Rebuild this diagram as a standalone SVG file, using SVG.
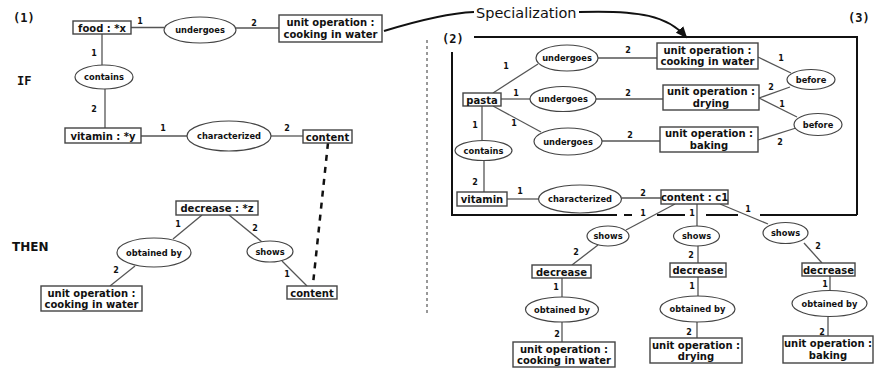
<svg xmlns="http://www.w3.org/2000/svg" width="876" height="370" viewBox="0 0 876 370">
<defs>
<style>
.bx{fill:#fff;stroke:#444;stroke-width:1.4}
.el{fill:#fff;stroke:#444;stroke-width:1.2}
.ln{stroke:#555;stroke-width:1.3;fill:none}
.fr{stroke:#111;stroke-width:2;fill:none}
.t{font-family:"DejaVu Sans",Verdana,sans-serif;font-weight:bold;font-size:10px;fill:#111;text-anchor:middle}
.e{font-family:"DejaVu Sans",Verdana,sans-serif;font-weight:bold;font-size:8.3px;fill:#111;text-anchor:middle}
.n{font-family:"DejaVu Sans",Verdana,sans-serif;font-weight:bold;font-size:8px;fill:#111;text-anchor:middle}
.m{font-family:"DejaVu Sans Mono",monospace;font-weight:bold;font-size:12px;fill:#111}
.h{font-family:"DejaVu Sans",Verdana,sans-serif;font-weight:bold;font-size:12px;fill:#111}
</style>
<marker id="ah" markerWidth="12" markerHeight="10" refX="10" refY="5" orient="auto" markerUnits="userSpaceOnUse">
<path d="M0,0 L12,5 L0,10 Z" fill="#111"/>
</marker>
</defs>
<rect width="876" height="370" fill="#fff"/>

<text class="m" x="13" y="22">(1)</text>
<text class="m" x="17" y="85">IF</text>
<text class="h" x="12" y="251">THEN</text>
<text class="m" x="442" y="43">(2)</text>
<text class="m" x="848" y="22">(3)</text>
<text x="476" y="18" style="font-family:'DejaVu Sans',Verdana,sans-serif;font-size:14.5px;fill:#111">Specialization</text>

<g id="connectors">
<path class="fr" d="M384 31 C420 20 450 13 474 12"/>
<path class="fr" d="M579 12 C640 10 668 16 686 37" marker-end="url(#ah)"/>
<line x1="427" y1="40" x2="427" y2="316" stroke="#333" stroke-width="1" stroke-dasharray="3 3"/>
<line x1="328" y1="143" x2="313" y2="284" stroke="#111" stroke-width="2.5" stroke-dasharray="6 6"/>
<g class="ln">
<line x1="131" y1="27.5" x2="164" y2="27.5"/>
<line x1="236" y1="28" x2="279" y2="28"/>
<line x1="102" y1="34" x2="102" y2="65"/>
<line x1="105" y1="89" x2="105" y2="128"/>
<line x1="141" y1="136" x2="187" y2="136"/>
<line x1="271" y1="136" x2="303" y2="136"/>
<line x1="202" y1="215" x2="173" y2="239"/>
<line x1="135" y1="266" x2="110" y2="286"/>
<line x1="229" y1="215" x2="262" y2="242"/>
<line x1="282" y1="261" x2="307" y2="286"/>
<line x1="493" y1="93" x2="538" y2="64"/>
<line x1="598" y1="58" x2="657" y2="58"/>
<line x1="501" y1="99" x2="530" y2="99"/>
<line x1="596" y1="99" x2="663" y2="99"/>
<line x1="493" y1="106" x2="541" y2="132"/>
<line x1="602" y1="141" x2="660" y2="141"/>
<line x1="482" y1="106" x2="482" y2="140.5"/>
<line x1="484" y1="160.5" x2="484" y2="192"/>
<line x1="507" y1="199" x2="538.5" y2="199"/>
<line x1="621.5" y1="198" x2="661" y2="198"/>
<line x1="758" y1="57" x2="791" y2="73"/>
<line x1="790" y1="87" x2="759" y2="98"/>
<line x1="759" y1="98" x2="797" y2="117"/>
<line x1="796" y1="128" x2="758" y2="140"/>
<line x1="675" y1="204" x2="626" y2="230"/>
<line x1="697" y1="204" x2="697" y2="226"/>
<line x1="720" y1="204" x2="768" y2="224"/>
<line x1="598" y1="245" x2="572" y2="265"/>
<line x1="562" y1="278" x2="562" y2="297"/>
<line x1="562" y1="322" x2="562" y2="342"/>
<line x1="698" y1="246" x2="698" y2="263"/>
<line x1="698" y1="277" x2="698" y2="296"/>
<line x1="697" y1="322" x2="697" y2="338"/>
<line x1="804" y1="243" x2="822" y2="263"/>
<line x1="830" y1="276" x2="830" y2="290.5"/>
<line x1="828" y1="317" x2="828" y2="336"/>
</g>
<g class="fr">
<path d="M474 37 H857 V215 M452 52 V215 H617 M624 215 H632 M657 215 H685 M706 215 H738 M760 215 H857"/>
</g>
<g>
<text class="n" x="140" y="24">1</text>
<text class="n" x="254" y="26">2</text>
<text class="n" x="94" y="56">1</text>
<text class="n" x="94" y="112">2</text>
<text class="n" x="163" y="131">1</text>
<text class="n" x="287" y="131">2</text>
<text class="n" x="178" y="227">1</text>
<text class="n" x="116" y="273">2</text>
<text class="n" x="255" y="231">2</text>
<text class="n" x="287" y="277">1</text>
<text class="n" x="506" y="69">1</text>
<text class="n" x="628" y="53">2</text>
<text class="n" x="516" y="96">1</text>
<text class="n" x="628" y="96">2</text>
<text class="n" x="514" y="126">1</text>
<text class="n" x="630" y="138">2</text>
<text class="n" x="475" y="128">1</text>
<text class="n" x="475" y="185">2</text>
<text class="n" x="520" y="194">1</text>
<text class="n" x="643" y="196">2</text>
<text class="n" x="781" y="61">1</text>
<text class="n" x="771" y="90">2</text>
<text class="n" x="782" y="107">1</text>
<text class="n" x="780" y="145">2</text>
<text class="n" x="643" y="216">1</text>
<text class="n" x="692" y="216">1</text>
<text class="n" x="748" y="212">1</text>
<text class="n" x="576" y="255">2</text>
<text class="n" x="556" y="290">1</text>
<text class="n" x="557" y="337">2</text>
<text class="n" x="691" y="258">2</text>
<text class="n" x="692" y="289">1</text>
<text class="n" x="689" y="335">2</text>
<text class="n" x="818" y="249">2</text>
<text class="n" x="825" y="287">1</text>
<text class="n" x="822" y="335">2</text>
</g>
</g>

<g id="food"><rect class="bx" x="73" y="21" width="58" height="13"/><text class="t" x="102" y="31.5">food : *x</text></g>
<g id="undergoes-l"><ellipse class="el" cx="200" cy="30" rx="36" ry="13"/><text class="e" x="200" y="33">undergoes</text></g>
<g id="uo-l1"><rect class="bx" x="279" y="15" width="103" height="27"/><text class="t" x="330.5" y="26">unit operation :</text><text class="t" x="330.5" y="38">cooking in water</text></g>
<g id="contains-l"><ellipse class="el" cx="104" cy="77" rx="29" ry="12"/><text class="e" x="104" y="80">contains</text></g>
<g id="vitamin-l"><rect class="bx" x="65" y="128" width="76" height="15"/><text class="t" x="103" y="139.5">vitamin : *y</text></g>
<g id="characterized-l"><ellipse class="el" cx="229" cy="136" rx="42" ry="15"/><text class="e" x="229" y="139">characterized</text></g>
<g id="content-l1"><rect class="bx" x="303" y="130" width="49" height="13"/><text class="t" x="327.5" y="140.5">content</text></g>
<g id="decrease-l"><rect class="bx" x="176" y="201" width="82" height="14"/><text class="t" x="217" y="212">decrease : *z</text></g>
<g id="obtained-l"><ellipse class="el" cx="154" cy="252.5" rx="37" ry="14.5"/><text class="e" x="154" y="255.5">obtained by</text></g>
<g id="shows-l"><ellipse class="el" cx="270" cy="251.5" rx="23" ry="10.5"/><text class="e" x="270" y="254.5">shows</text></g>
<g id="uo-l2"><rect class="bx" x="41" y="286" width="101" height="25"/><text class="t" x="91.5" y="296.5">unit operation :</text><text class="t" x="91.5" y="308">cooking in water</text></g>
<g id="content-l2"><rect class="bx" x="287" y="286" width="50" height="13"/><text class="t" x="312" y="296.5">content</text></g>

<g id="pasta"><rect class="bx" x="463" y="93" width="38" height="13"/><text class="t" x="482" y="103.5">pasta</text></g>
<g id="undergoes-r1"><ellipse class="el" cx="567" cy="58" rx="31" ry="13"/><text class="e" x="567" y="61">undergoes</text></g>
<g id="undergoes-r2"><ellipse class="el" cx="563" cy="99" rx="33" ry="12.5"/><text class="e" x="563" y="102">undergoes</text></g>
<g id="undergoes-r3"><ellipse class="el" cx="568" cy="141.5" rx="34" ry="13.5"/><text class="e" x="568" y="144.5">undergoes</text></g>
<g id="contains-r"><ellipse class="el" cx="483.5" cy="150.5" rx="28.5" ry="10"/><text class="e" x="483.5" y="153.5">contains</text></g>
<g id="vitamin-r"><rect class="bx" x="457" y="192" width="50" height="14"/><text class="t" x="482" y="203">vitamin</text></g>
<g id="characterized-r"><ellipse class="el" cx="580" cy="199" rx="41.5" ry="14"/><text class="e" x="580" y="202">characterized</text></g>
<g id="content-c1"><rect class="bx" x="661" y="190" width="67" height="14"/><text class="t" x="694.5" y="201">content : c1</text></g>
<g id="uo-cook"><rect class="bx" x="657" y="43" width="101" height="26"/><text class="t" x="707.5" y="53.5">unit operation :</text><text class="t" x="707.5" y="65">cooking in water</text></g>
<g id="uo-dry"><rect class="bx" x="663" y="85" width="96" height="25"/><text class="t" x="711" y="95">unit operation :</text><text class="t" x="711" y="107">drying</text></g>
<g id="uo-bake"><rect class="bx" x="660" y="127" width="98" height="25"/><text class="t" x="709" y="137">unit operation :</text><text class="t" x="709" y="149">baking</text></g>
<g id="before1"><ellipse class="el" cx="811" cy="79.5" rx="24" ry="10"/><text class="e" x="811" y="82.5">before</text></g>
<g id="before2"><ellipse class="el" cx="818" cy="124.5" rx="24" ry="11"/><text class="e" x="818" y="127.5">before</text></g>

<g id="shows1"><ellipse class="el" cx="608" cy="236" rx="21" ry="10"/><text class="e" x="608" y="239">shows</text></g>
<g id="shows2"><ellipse class="el" cx="696.5" cy="236" rx="23" ry="10"/><text class="e" x="696.5" y="239">shows</text></g>
<g id="shows3"><ellipse class="el" cx="785.5" cy="233" rx="22.5" ry="10.5"/><text class="e" x="785.5" y="236">shows</text></g>
<g id="decrease1"><rect class="bx" x="532" y="265" width="59" height="13"/><text class="t" x="561.5" y="275.5">decrease</text></g>
<g id="decrease2"><rect class="bx" x="670" y="263" width="56" height="14"/><text class="t" x="698" y="274">decrease</text></g>
<g id="decrease3"><rect class="bx" x="802" y="263" width="53" height="13"/><text class="t" x="828.5" y="273.5">decrease</text></g>
<g id="obtained1"><ellipse class="el" cx="562" cy="309.5" rx="36.5" ry="12.5"/><text class="e" x="562" y="312.5">obtained by</text></g>
<g id="obtained2"><ellipse class="el" cx="697.5" cy="309" rx="37.5" ry="13"/><text class="e" x="697.5" y="312">obtained by</text></g>
<g id="obtained3"><ellipse class="el" cx="829.5" cy="303.5" rx="37.5" ry="13"/><text class="e" x="829.5" y="306.5">obtained by</text></g>
<g id="uo-r1"><rect class="bx" x="513" y="342" width="102" height="25"/><text class="t" x="564" y="352.5">unit operation :</text><text class="t" x="564" y="364">cooking in water</text></g>
<g id="uo-r2"><rect class="bx" x="650" y="338" width="92" height="25"/><text class="t" x="696" y="348.5">unit operation :</text><text class="t" x="696" y="360">drying</text></g>
<g id="uo-r3"><rect class="bx" x="783" y="336" width="90" height="27"/><text class="t" x="828" y="347">unit operation :</text><text class="t" x="828" y="359">baking</text></g>
</svg>
